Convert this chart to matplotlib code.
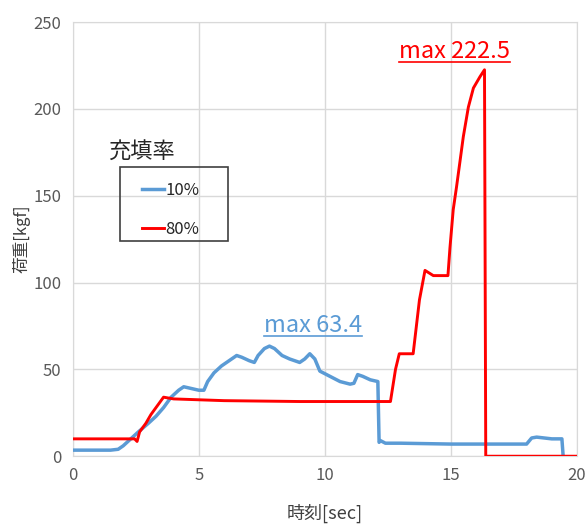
import matplotlib
matplotlib.use("Agg")
import matplotlib.pyplot as plt
from matplotlib.lines import Line2D
from matplotlib.patches import Rectangle

plt.rcParams['font.family'] = ['Noto Sans CJK JP', 'DejaVu Sans']

# --- data ---
t_10 = [0, 1.5, 1.8, 2.0, 2.3, 2.6, 3.0, 3.3, 3.6, 3.9, 4.2, 4.4, 4.7, 5.0, 5.2,
        5.35, 5.6, 5.9, 6.2, 6.5, 6.7, 7.0, 7.2, 7.35, 7.6, 7.8, 8.0, 8.3, 8.6,
        9.0, 9.2, 9.4, 9.6, 9.8, 10.2, 10.6, 11.0, 11.15, 11.3, 11.5, 11.8,
        12.1, 12.15, 12.2, 12.4, 13.0, 15.0, 18.0, 18.2, 18.4, 19.0, 19.4, 19.45]
f_10 = [3.5, 3.5, 4, 6, 10, 14, 19, 23, 28, 34, 38, 40, 39, 38, 38,
        43, 48, 52, 55, 58, 57, 55, 54, 58, 62, 63.4, 62, 58, 56,
        54, 56, 59, 56, 49, 46, 43, 41.5, 42, 47, 46, 44,
        43, 8, 9, 7.5, 7.5, 7, 7, 10.5, 11, 10, 10, 0]

t_80 = [0, 2.45, 2.55, 2.65, 2.9, 3.1, 3.3, 3.6, 4.0, 6.0, 9.0, 12.6, 12.8,
        12.95, 13.5, 13.75, 13.97, 14.3, 14.88, 14.96, 15.09, 15.22, 15.36,
        15.49, 15.69, 15.89, 16.15, 16.33, 16.38, 20.0]
f_80 = [10, 10, 8.5, 14, 19, 24, 28, 34, 33, 32, 31.5, 31.5, 50,
        59, 59, 90, 107, 104, 104, 120, 142, 155, 170,
        184, 201, 212, 218.5, 222.5, 0, 0]

labels = ['10%', '80%']
colors = ['#5B9BD5', '#FF0000']
max_10 = 63.4
max_80 = 222.5

fig = plt.figure(figsize=(5.87, 5.25), dpi=100)
ax = fig.add_axes([0.124, 0.131, 0.859, 0.827])

ax.plot(t_10, f_10, color=colors[0], lw=2.5, label=labels[0], zorder=3)
ax.plot(t_80, f_80, color=colors[1], lw=2.1, label=labels[1], zorder=4)

ax.set_xlim(0, 20)
ax.set_ylim(0, 250)
ax.set_xticks([0, 5, 10, 15, 20])
ax.set_yticks([0, 50, 100, 150, 200, 250])
ax.grid(True, color='#D9D9D9', lw=1)
ax.set_axisbelow(True)
for s in ax.spines.values():
    s.set_color('#D9D9D9')
ax.tick_params(length=0, labelsize=12, colors='#595959', pad=8)
ax.set_xlabel('時刻[sec]', fontsize=13, color='#404040', labelpad=14)
ax.set_ylabel('荷重[kgf]', fontsize=12, color='#404040', labelpad=2)

# max annotations (underlined)
txt1 = ax.text(9.52, 71.5, f'max {max_10}', color=colors[0], fontsize=17,
               ha='center', va='baseline')
txt2 = ax.text(15.16, 229.5, f'max {max_80}', color=colors[1], fontsize=17,
               ha='center', va='baseline')

# legend: entries without frame, box drawn separately, title above the box
leg = ax.legend(loc='upper left', bbox_to_anchor=(0.242, 0.654),
                bbox_transform=fig.transFigure, frameon=False, fontsize=12,
                handlelength=1.3, handletextpad=0.1, labelspacing=1.35,
                borderpad=0, borderaxespad=0)
for txt in leg.get_texts():
    txt.set_color('#262626')
fig.add_artist(Rectangle((0.2044, 0.541), 0.184, 0.141, transform=fig.transFigure,
                         fill=False, edgecolor='#404040', lw=1.2, zorder=5))
fig.text(0.184, 0.699, '充填率', fontsize=16, color='#262626')

# underline under the annotation texts
fig.canvas.draw()
r = fig.canvas.get_renderer()
inv = fig.transFigure.inverted()
for t, c in [(txt1, colors[0]), (txt2, colors[1])]:
    bb = t.get_window_extent(r)
    (x0, y0), (x1, _) = inv.transform([(bb.x0, bb.y0), (bb.x1, bb.y1)])
    fig.add_artist(Line2D([x0, x1], [y0 + 0.002, y0 + 0.002], color=c, lw=1.2,
                          transform=fig.transFigure))

fig.savefig('out.png', dpi=100)
